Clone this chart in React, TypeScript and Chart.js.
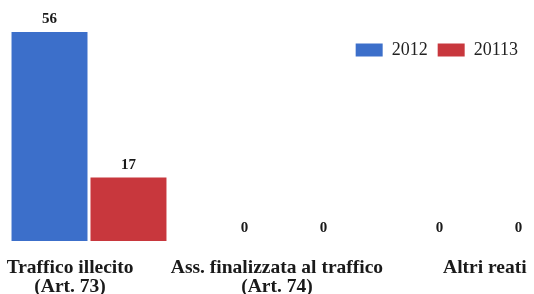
import React, { useEffect, useRef } from "react";
import { Chart, registerables } from "chart.js";

Chart.register(...registerables);

const categories: string[][] = [
  ["Traffico illecito", "(Art. 73)"],
  ["Ass. finalizzata al traffico", "(Art. 74)"],
  ["Altri reati"],
];
const series2012: number[] = [56, 0, 0];
const series20113: number[] = [17, 0, 0];
const seriesNames: string[] = ["2012", "20113"];

const SERIF = "'Liberation Serif', 'Times New Roman', serif";

const valueLabels = {
  id: "valueLabels",
  afterDatasetsDraw(chart: any) {
    const ctx = chart.ctx;
    ctx.save();
    ctx.font = `bold 15px ${SERIF}`;
    ctx.fillStyle = "#1a1a1a";
    ctx.textAlign = "center";
    ctx.textBaseline = "middle";
    chart.data.datasets.forEach((ds: any, di: number) => {
      const meta = chart.getDatasetMeta(di);
      meta.data.forEach((el: any, i: number) => {
        const v = ds.data[i].y;
        ctx.fillText(String(v), el.x, el.y - 12.5);
      });
    });
    ctx.restore();
  },
};

// Let the legend overlay the plot area instead of taking layout space.
const legendOverlay = {
  id: "legendOverlay",
  afterLayout(chart: any) {
    const lg = chart.legend;
    if (lg) {
      lg.height = 40;
      lg.bottom = lg.top + 40;
    }
  },
};

export default function App() {
  const ref = useRef<HTMLCanvasElement | null>(null);
  useEffect(() => {
    if (!ref.current) return;
    const chart = new Chart(ref.current, {
      type: "bar",
      data: {
        datasets: [
          {
            label: seriesNames[0],
            data: series2012.map((y, i) => ({ x: i, y })),
            backgroundColor: "#3c6fca",
            borderWidth: 0,
            categoryPercentage: 0.81,
            barPercentage: 0.962,
          },
          {
            label: seriesNames[1],
            data: series20113.map((y, i) => ({ x: i, y })),
            backgroundColor: "#c8373d",
            borderWidth: 0,
            categoryPercentage: 0.81,
            barPercentage: 0.962,
          },
        ],
      },
      options: {
        animation: false,
        responsive: false,
        layout: { padding: { top: 31, right: 6, left: 0, bottom: 0 } },
        plugins: {
          tooltip: { enabled: false },
          legend: {
            position: "top",
            align: "end",
            maxHeight: 0.01,
            labels: {
              boxWidth: 27,
              boxHeight: 13,
              padding: 10,
              color: "#222",
              font: { family: SERIF, size: 18 },
            },
          },
        },
        scales: {
          x: {
            type: "linear",
            min: -0.4564,
            max: 2.2513,
            offset: false,
            grid: { display: false, drawTicks: false },
            border: { display: false },
            afterFit: (scale: any) => {
              scale.height = 53;
              scale.paddingLeft = 0;
              scale.paddingRight = 0;
            },
            afterBuildTicks: (scale: any) => {
              scale.ticks = [-0.097, 0.964, 2.03].map((value) => ({ value }));
            },
            ticks: {
              autoSkip: false,
              maxRotation: 0,
              padding: 17.5,
              color: "#1a1a1a",
              font: { family: SERIF, size: 19.5, weight: "bold", lineHeight: 0.975 },
              callback: (_v: any, index: number) => categories[index] ?? "",
            },
          },
          y: {
            display: false,
            min: 0,
            max: 56.27,
            grid: { display: false },
          },
        },
      },
      plugins: [valueLabels, legendOverlay],
    } as any);
    return () => chart.destroy();
  }, []);
  return (
    <div style={{ position: "fixed", left: 0, top: 0, width: 534, height: 294 }}>
      <canvas ref={ref} width={534} height={294} style={{ display: "block" }} />
    </div>
  );
}
